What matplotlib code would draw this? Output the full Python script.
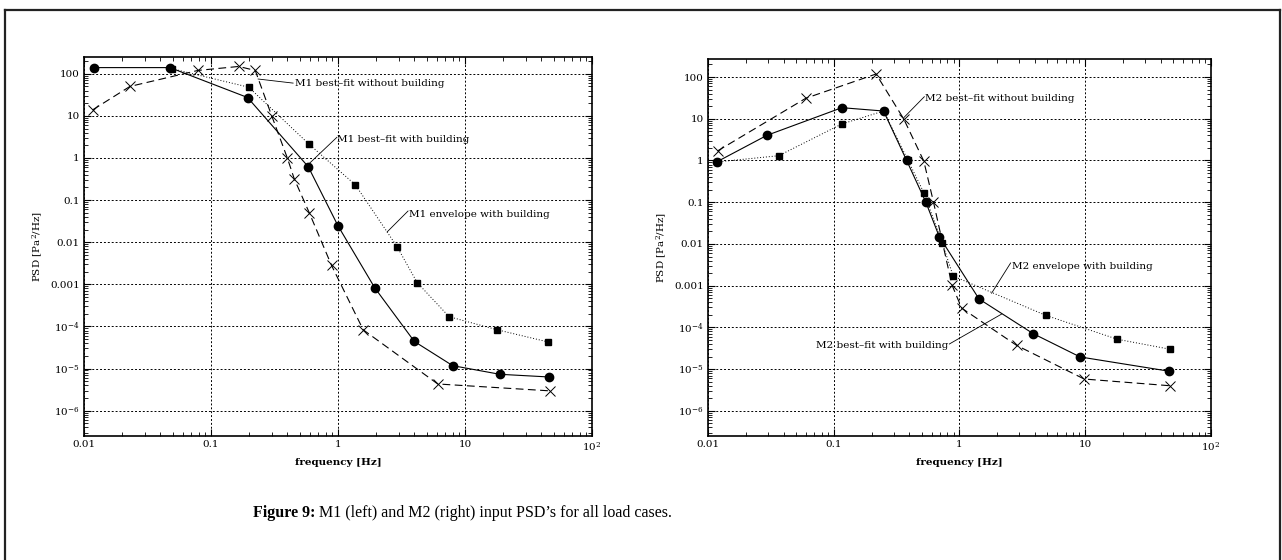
import matplotlib
matplotlib.use("Agg")
import matplotlib.pyplot as plt
from matplotlib.ticker import FixedLocator, LogLocator, NullFormatter

# ---------------- data ----------------
# M1 (left)
m1_fit_bld_f = [0.012, 0.0475, 0.194, 0.583, 1.0, 1.95, 3.99, 8.0, 18.8, 46]
m1_fit_bld_v = [140, 140, 27.3, 0.62, 0.0245, 8.2e-4, 4.4e-5, 1.17e-5, 7.3e-6, 6.3e-6]

m1_env_bld_f = [0.0495, 0.198, 0.594, 1.37, 2.92, 4.2, 7.5, 18, 44.8]
m1_env_bld_v = [131, 48, 2.1, 0.23, 0.0078, 1.1e-3, 1.7e-4, 8.3e-5, 4.3e-5]

m1_fit_nob_f = [0.0117, 0.023, 0.079, 0.165, 0.223, 0.30, 0.40, 0.453, 0.594, 0.89, 1.58, 6.1, 46.7]
m1_fit_nob_v = [13.9, 50, 120, 149, 120, 10.2, 0.98, 0.316, 0.05, 0.0028, 8.3e-5, 4.3e-6, 2.95e-6]

# M2 (right)
m2_fit_bld_f = [0.0117, 0.0294, 0.116, 0.249, 0.38, 0.54, 0.69, 1.43, 3.85, 9.1, 46.6]
m2_fit_bld_v = [0.92, 4.0, 18.4, 15.3, 1.0, 0.1, 0.015, 4.8e-4, 7.1e-5, 1.96e-5, 8.9e-6]

m2_env_bld_f = [0.0117, 0.0365, 0.116, 0.249, 0.39, 0.52, 0.73, 0.89, 4.84, 18, 47.2]
m2_env_bld_v = [0.92, 1.3, 7.5, 15.3, 1.0, 0.17, 0.0105, 1.7e-3, 1.95e-4, 5.2e-5, 3.0e-5]

m2_fit_nob_f = [0.0119, 0.06, 0.217, 0.36, 0.52, 0.62, 0.87, 1.04, 2.85, 9.8, 47.2]
m2_fit_nob_v = [1.69, 31, 118, 9.9, 0.97, 0.103, 1.05e-3, 2.9e-4, 3.7e-5, 5.8e-6, 4.0e-6]

x_ticks = [0.01, 0.1, 1, 10, 100]
x_ticklabels = ["0.01", "0.1", "1", "10", r"$10^{2}$"]
y_ticks = [1e-6, 1e-5, 1e-4, 1e-3, 1e-2, 1e-1, 1, 10, 100]
y_ticklabels = [r"$10^{-6}$", r"$10^{-5}$", r"$10^{-4}$", "0.001", "0.01", "0.1", "1", "10", "100"]

# annotations: (text, text_xy, leader_start, leader_end, ha)
m1_notes = [
    ("M1 best\u2013fit without building", (0.46, 60), (0.235, 75), (0.443, 60), "left"),
    ("M1 best\u2013fit with building", (0.99, 2.8), (0.60, 0.76), (0.98, 3.1), "left"),
    ("M1 envelope with building", (3.6, 0.046), (2.44, 0.0176), (3.56, 0.055), "left"),
]
m2_notes = [
    ("M2 best\u2013fit without building", (0.53, 31), (0.357, 10.3), (0.525, 33.7), "left"),
    ("M2 envelope with building", (2.6, 2.86e-3), (1.80, 6.6e-4), (2.55, 3.5e-3), "left"),
    ("M2 best\u2013fit with building", (0.815, 3.6e-5), (2.17, 2.1e-4), (0.83, 4.0e-5), "right"),
]

caption_bold = "Figure 9:"
caption_rest = "M1 (left) and M2 (right) input PSD\u2019s for all load cases."

# ---------------- figure ----------------
plt.rcParams["font.family"] = ["DejaVu Serif"]
plt.rcParams["mathtext.fontset"] = "dejavuserif"

fig = plt.figure(figsize=(12.82, 5.6), dpi=100)

# outer frame
fr = dict(color="#222222", lw=1.6, transform=fig.transFigure)
fig.add_artist(plt.Line2D([4.5 / 1282, 4.5 / 1282], [0, 1 - 9.5 / 560], **fr))
fig.add_artist(plt.Line2D([4.5 / 1282, 1280 / 1282], [1 - 9.5 / 560, 1 - 9.5 / 560], **fr))
fig.add_artist(plt.Line2D([1280 / 1282, 1280 / 1282], [0, 1 - 9.5 / 560], **fr))

ax1 = fig.add_axes([84 / 1282, 1 - 436 / 560, (592 - 84) / 1282, (436 - 57) / 560])
ax2 = fig.add_axes([708 / 1282, 1 - 436 / 560, (1211 - 708) / 1282, (436 - 59) / 560])


def style(ax, ytop):
    ax.set_xscale("log")
    ax.set_yscale("log")
    ax.set_xlim(0.01, 100)
    ax.set_ylim(2.5e-7, ytop)
    ax.xaxis.set_major_locator(FixedLocator(x_ticks))
    ax.set_xticklabels(x_ticklabels)
    ax.yaxis.set_major_locator(FixedLocator(y_ticks))
    ax.set_yticklabels(y_ticklabels)
    ax.xaxis.set_minor_locator(LogLocator(base=10, subs=range(2, 10), numticks=20))
    ax.yaxis.set_minor_locator(LogLocator(base=10, subs=range(2, 10), numticks=20))
    ax.xaxis.set_minor_formatter(NullFormatter())
    ax.yaxis.set_minor_formatter(NullFormatter())
    ax.tick_params(which="both", direction="in", top=True, right=True, labelsize=7.5, pad=3)
    ax.tick_params(which="major", length=5, width=0.8)
    ax.tick_params(which="minor", length=3, width=0.6)
    for s in ax.spines.values():
        s.set_linewidth(1.2)
    ax.grid(True, which="major", linestyle=(0, (2, 2)), color="black", linewidth=0.7)
    ax.set_xlabel("frequency [Hz]", fontsize=7.5, fontweight="bold", labelpad=4)
    ax.set_ylabel(r"PSD [Pa$^2$/Hz]", fontsize=7.5, labelpad=4)


def draw(ax, fb, vb, fe, ve, fn, vn, notes):
    ax.plot(fn, vn, color="black", lw=0.8, ls=(0, (7, 4)), marker="x", ms=7, mew=0.7, zorder=3)
    ax.plot(fe, ve, color="black", lw=0.7, ls=(0, (1, 2)), marker="s", ms=4.5, zorder=4)
    ax.plot(fb, vb, color="black", lw=0.8, ls="-", marker="o", ms=6, zorder=5)
    for text, txy, p0, p1, ha in notes:
        ax.plot([p0[0], p1[0]], [p0[1], p1[1]], color="black", lw=0.6, zorder=6)
        ax.text(txy[0], txy[1], text, ha=ha, va="center", fontsize=7.5, zorder=7)


style(ax1, 250)
style(ax2, 270)
draw(ax1, m1_fit_bld_f, m1_fit_bld_v, m1_env_bld_f, m1_env_bld_v, m1_fit_nob_f, m1_fit_nob_v, m1_notes)
draw(ax2, m2_fit_bld_f, m2_fit_bld_v, m2_env_bld_f, m2_env_bld_v, m2_fit_nob_f, m2_fit_nob_v, m2_notes)

cy = 1 - 513 / 560
t1 = fig.text(253 / 1282, cy, caption_bold, fontsize=11.5, fontweight="bold",
              family=["Liberation Serif"], ha="left", va="center")
renderer = fig.canvas.get_renderer()
bb = t1.get_window_extent(renderer=renderer)
fig.text((bb.x1 + 4) / 1282, cy, caption_rest,
         fontsize=11.5, family=["Liberation Serif"], ha="left", va="center")

fig.savefig("out.png", dpi=100)
